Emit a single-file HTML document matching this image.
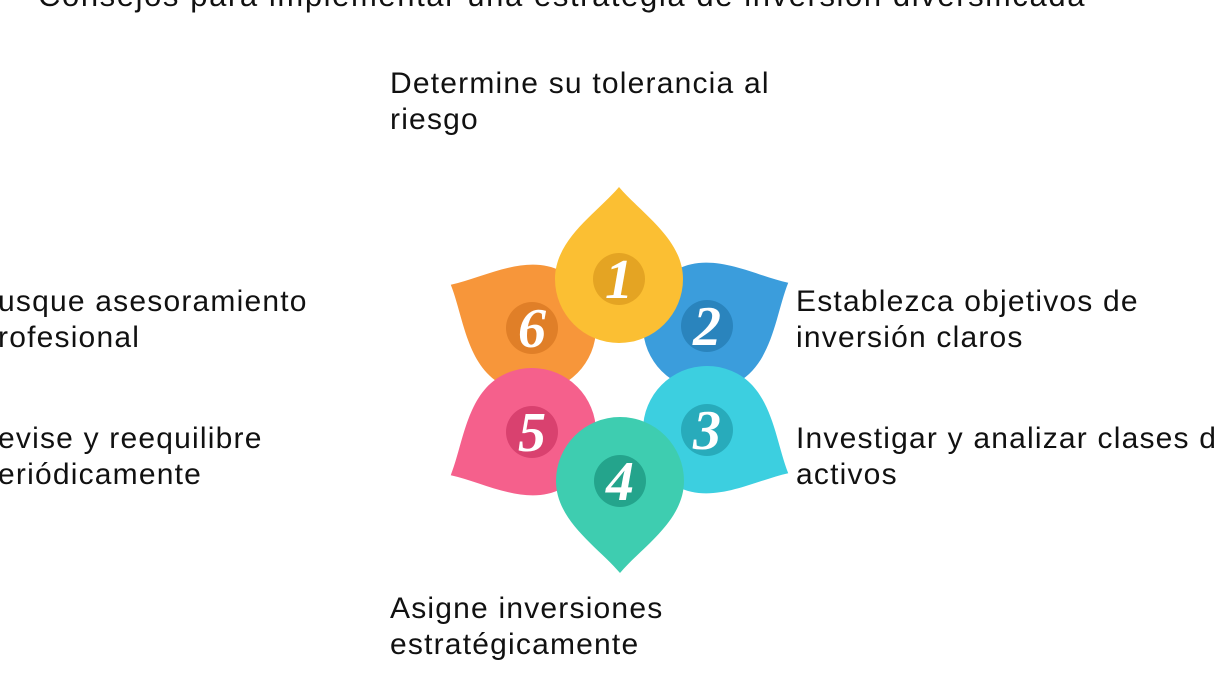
<!DOCTYPE html>
<html><head><meta charset="utf-8"><style>
body{margin:0;width:1215px;height:683px;background:#fff;overflow:hidden;position:relative;font-family:"Liberation Sans",sans-serif}
.t{position:absolute;font-size:30px;letter-spacing:1.2px;line-height:36px;color:#111;white-space:nowrap}
</style></head><body>
<div class="t" style="left:38px;top:-22px;font-size:31px;letter-spacing:1.6px">Consejos para implementar una estrategia de inversión diversificada</div>
<div class="t" style="left:390px;top:66px">Determine su tolerancia al<br>riesgo</div>
<div class="t" style="left:796px;top:284px">Establezca objetivos de<br>inversión claros</div>
<div class="t" style="left:796px;top:421px">Investigar y analizar clases de<br>activos</div>
<div class="t" style="left:390px;top:591px">Asigne inversiones<br>estratégicamente</div>
<div class="t" style="left:-2px;top:284px">usque asesoramiento<br>rofesional</div>
<div class="t" style="left:-2px;top:421px">evise y reequilibre<br>eriódicamente</div>
<svg width="1215" height="683" style="position:absolute;left:0;top:0">
<defs><path id="p" d="M0 -92 C22 -66 64 -40 64 0 A64 64 0 1 1 -64 0 C-64 -40 -22 -66 0 -92Z"/></defs>
<g font-family="Liberation Serif,serif" font-style="italic" font-weight="bold" font-size="56" fill="#fff" text-anchor="middle">
<g transform="translate(532,328)"><use href="#p" transform="rotate(-62)" fill="#f7963a"/><circle r="26" fill="#e07f28"/><text y="19">6</text></g>
<g transform="translate(707,326)"><use href="#p" transform="rotate(62)" fill="#3b9ddc"/><circle r="26" fill="#2a84bd"/><text y="19">2</text></g>
<g transform="translate(619,279)"><use href="#p" fill="#fbbf33"/><circle r="26" fill="#e4a423"/><text y="19">1</text></g>
<g transform="translate(707,430)"><use href="#p" transform="rotate(118)" fill="#3ccfe0"/><circle r="26" fill="#28abbb"/><text y="19">3</text></g>
<g transform="translate(532,432)"><use href="#p" transform="rotate(242)" fill="#f5608c"/><circle r="26" fill="#d9416f"/><text y="19">5</text></g>
<g transform="translate(620,481)"><use href="#p" transform="rotate(180)" fill="#3ecdb0"/><circle r="26" fill="#24a48c"/><text y="19">4</text></g>
</g>
</svg>
</body></html>
